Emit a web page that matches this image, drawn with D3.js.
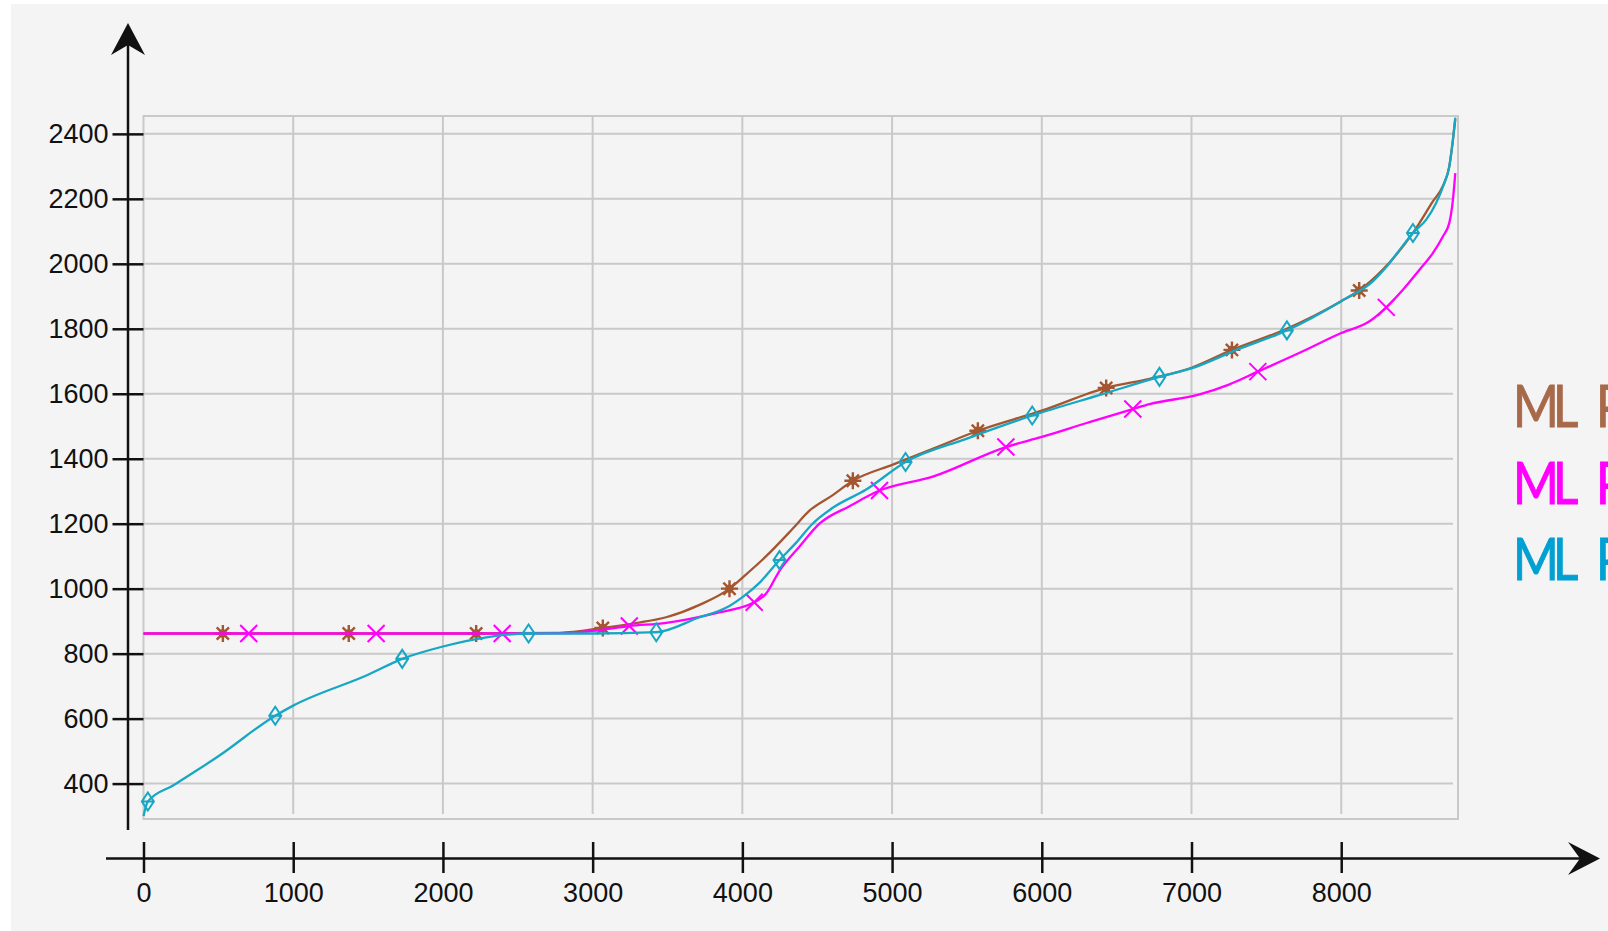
<!DOCTYPE html>
<html>
<head>
<meta charset="utf-8">
<script src="https://cdn.jsdelivr.net/npm/d3@7"></script>
<style>
  body { margin: 0; background: #fff; }
  svg { display: block; }
</style>
</head>
<body>
<svg id="chart"></svg>
<script>
// axis tick labels
const xTicks = [0, 1000, 2000, 3000, 4000, 5000, 6000, 7000, 8000];
const yTicks = [400, 600, 800, 1000, 1200, 1400, 1600, 1800, 2000, 2200, 2400];

// legend (cut by the right edge in the original)
const seriesNames = ["MLP1", "MLP2", "MLP3"];

// sorted curves, [hour, value]
const mlp1 = [[0,862],[530,862],[1371,862],[2222,862],[2780,864],[3068,879],[3300,895],[3491,912],[3714,950],[3914,1000],[4003,1035],[4159,1100],[4337,1185],[4448,1240],[4604,1288],[4738,1332],[5005,1382],[5300,1436],[5573,1486],[6000,1548],[6430,1618],[6720,1646],[7000,1680],[7270,1735],[7621,1797],[8000,1885],[8120,1918],[8278,1982],[8479,2095],[8612,2192],[8679,2240],[8722,2300],[8746,2380],[8762,2445]];
const mlp2 = [[0,862],[703,862],[1554,862],[2396,862],[2800,863],[3000,870],[3245,885],[3491,895],[3824,925],[4079,958],[4159,985],[4248,1055],[4382,1130],[4515,1200],[4716,1254],[4916,1302],[5272,1345],[5760,1436],[6000,1467],[6300,1510],[6608,1553],[6720,1568],[7054,1598],[7250,1628],[7443,1668],[7722,1726],[8000,1787],[8189,1823],[8301,1866],[8412,1920],[8523,1982],[8612,2033],[8679,2084],[8722,2126],[8746,2197],[8762,2279]];
const mlp3 = [[0,300],[29,345],[200,395],[500,484],[880,609],[1000,640],[1500,735],[1728,784],[2000,822],[2300,851],[2572,862],[3000,862],[3425,866],[3714,912],[3891,941],[4003,975],[4114,1018],[4248,1088],[4358,1141],[4469,1200],[4604,1249],[4827,1305],[5090,1390],[5500,1462],[5936,1533],[6400,1598],[6786,1652],[7000,1678],[7300,1735],[7637,1795],[8000,1885],[8211,1946],[8301,1990],[8390,2043],[8479,2095],[8568,2136],[8634,2187],[8689,2249],[8722,2300],[8746,2382],[8762,2450]];

// marker points
const mlp1Marks = [[530,862],[1371,862],[2222,862],[3068,879],[3914,1000],[4738,1332],[5573,1486],[6430,1618],[7270,1735],[8120,1918]];
const mlp2Marks = [[703,862],[1554,862],[2396,862],[3245,885],[4079,958],[4916,1302],[5760,1436],[6608,1553],[7443,1668],[8301,1866]];
const mlp3Marks = [[29,345],[880,609],[1728,784],[2572,862],[3425,866],[4248,1088],[5090,1390],[5936,1533],[6786,1652],[7637,1795],[8479,2095]];

const width = 1608, height = 931;
const frame = { left: 143.5, right: 1458, top: 116, bottom: 819 };

const svg = d3.select("#chart")
    .attr("width", width)
    .attr("height", height);

svg.append("rect")
    .attr("x", 11).attr("y", 4)
    .attr("width", width - 11).attr("height", height - 4)
    .attr("fill", "#f4f4f4");

const x = d3.scaleLinear().domain([0, 8780]).range([frame.left, frame.right]);
const y = d3.scaleLinear().domain([291, 2455]).range([frame.bottom, frame.top]);

//grid
const grid = svg.append("g").attr("stroke", "#c9c9c9").attr("stroke-width", 2);
grid.selectAll(".hg")
    .data(yTicks)
    .join("line")
    .attr("x1", frame.left).attr("x2", frame.right - 5)
    .attr("y1", d => y(d)).attr("y2", d => y(d));
grid.selectAll(".vg")
    .data(xTicks.slice(1))
    .join("line")
    .attr("x1", d => x(d)).attr("x2", d => x(d))
    .attr("y1", frame.top).attr("y2", frame.bottom - 5);
grid.append("rect")
    .attr("x", frame.left).attr("y", frame.top)
    .attr("width", frame.right - frame.left).attr("height", frame.bottom - frame.top)
    .attr("fill", "none");

//axes
const tickFont = "'Liberation Sans', Arial, sans-serif";

svg.append("g")
    .attr("transform", `translate(${frame.left},0)`)
    .call(d3.axisLeft(y).tickValues(yTicks).tickSize(31).tickPadding(4).tickFormat(d3.format("d")))
    .call(g => g.select(".domain").remove())
    .call(g => g.selectAll(".tick line").attr("stroke", "#111").attr("stroke-width", 2.5))
    .call(g => g.selectAll(".tick text").attr("fill", "#111").attr("font-size", 27).attr("font-family", tickFont));

svg.append("g")
    .attr("transform", "translate(0,842)")
    .call(d3.axisBottom(x).tickValues(xTicks).tickSize(31).tickPadding(10).tickFormat(d3.format("d")))
    .call(g => g.select(".domain").remove())
    .call(g => g.selectAll(".tick line").attr("stroke", "#111").attr("stroke-width", 2.5))
    .call(g => g.selectAll(".tick text").attr("fill", "#111").attr("font-size", 27).attr("font-family", tickFont));

// axis lines with arrow heads
svg.append("line")
    .attr("x1", 128).attr("x2", 128).attr("y1", 35).attr("y2", 830)
    .attr("stroke", "#111").attr("stroke-width", 2.5);
svg.append("path")
    .attr("d", "M128,23 L111,55 L128,45 L145,55 Z")
    .attr("fill", "#111");
svg.append("line")
    .attr("x1", 106).attr("x2", 1590).attr("y1", 858.5).attr("y2", 858.5)
    .attr("stroke", "#111").attr("stroke-width", 2.5);
svg.append("path")
    .attr("d", "M1600,858.5 L1568,842 L1580,858.5 L1568,875 Z")
    .attr("fill", "#111");

//series
const line = d3.line()
    .x(d => x(d[0]))
    .y(d => y(d[1]))
    .curve(d3.curveMonotoneX);

const plot = svg.append("g");

function star(s) {
    const r = 8.5, q = r * 0.72;
    s.append("path")
        .attr("d", `M${-r},0H${r}M0,${-r}V${r}M${-q},${-q}L${q},${q}M${-q},${q}L${q},${-q}`)
        .attr("stroke-width", 2.4);
    s.append("circle").attr("r", 4.2).attr("fill", "currentColor").attr("stroke", "none");
}
function cross(s) {
    const r = 8.5;
    s.append("path")
        .attr("d", `M${-r},${-r}L${r},${r}M${-r},${r}L${r},${-r}`)
        .attr("stroke-width", 2);
}
function diamond(s) {
    s.append("path")
        .attr("d", "M0,-9L6,0L0,9L-6,0ZM-6,0H6")
        .attr("stroke-width", 2);
}

const series = [
    { data: mlp1, marks: mlp1Marks, color: "#a3562f", shape: star },
    { data: mlp2, marks: mlp2Marks, color: "#ff00ff", shape: cross },
    { data: mlp3, marks: mlp3Marks, color: "#17a7c4", shape: diamond }
];

series.forEach(s => {
    plot.append("path")
        .datum(s.data)
        .attr("fill", "none")
        .attr("stroke", s.color)
        .attr("stroke-width", 2.3)
        .attr("d", line);

    plot.append("g")
        .selectAll("g")
        .data(s.marks)
        .join("g")
        .attr("transform", d => `translate(${x(d[0])},${y(d[1])})`)
        .attr("color", s.color)
        .attr("stroke", s.color)
        .attr("fill", "none")
        .each(function () { s.shape(d3.select(this)); });
});

//legend - narrow lettering, placed glyph by glyph
const legendColors = ["#a8694a", "#ff00ff", "#00a0d2"];
const squeeze = 0.85;
svg.append("g")
    .selectAll("text")
    .data(seriesNames)
    .join("text")
    .attr("transform", (d, i) => `translate(1513,${427 + i * 76.5}) scale(${squeeze},1)`)
    .attr("x", [0, 40, 83, 127].map(v => v / squeeze).join(" "))
    .attr("fill", (d, i) => legendColors[i])
    .attr("stroke", (d, i) => legendColors[i])
    .attr("stroke-width", 1)
    .attr("font-family", "Lato, 'Open Sans', sans-serif")
    .attr("font-size", 58)
    .text(d => d);
</script>
</body>
</html>
